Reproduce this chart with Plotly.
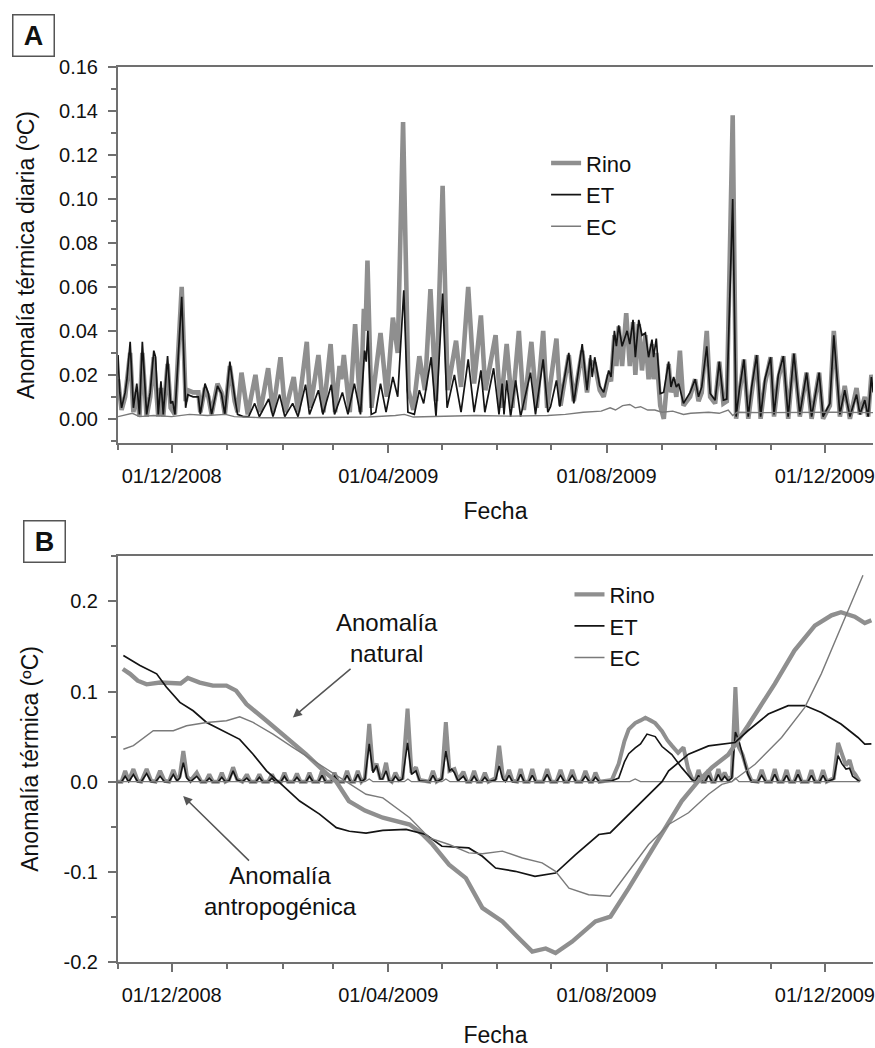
import pandas as pd
import plotly.graph_objects as go

START = pd.Timestamp("2008-11-01")   # x values below are days since this date

# ---------------- Panel A: daily thermal anomaly (vertices) ----------------
a_rino = [(0, 0.018), (2, 0.004), (4, 0.010), (6.8, 0.030), (8.6, 0.003), (10.5, 0.012), (12, 0.001),
          (13.6, 0.030), (16, 0.001), (18, 0.010), (20, 0.028), (22.5, 0.001), (24, 0.014), (25.3, 0.001),
          (27.7, 0.025), (29.4, 0.005), (31.8, 0.002), (35.6, 0.060), (37.8, 0.008), (39, 0.013), (42, 0.012),
          (44.9, 0.012), (46, 0.003), (48.6, 0.014), (50.5, 0.010), (52.3, 0.002), (55.6, 0.016), (57.8, 0.012),
          (59.7, 0.002), (62.5, 0.024), (65.2, 0.008), (66.8, 0.003), (69, 0.021), (72.5, 0.002), (76.8, 0.020),
          (79.5, 0.003), (83.9, 0.023), (86.6, 0.003), (90.8, 0.028), (93.4, 0.003), (98.2, 0.019), (100.6, 0.003),
          (105.5, 0.035), (107.5, 0.005), (112, 0.029), (114.8, 0.003), (118.8, 0.034), (121.3, 0.003),
          (123.8, 0.024), (124.8, 0.018), (126.2, 0.029), (129.5, 0.003), (132.5, 0.043), (135.5, 0.003),
          (137.4, 0.050), (138.3, 0.040), (139.4, 0.072), (141.6, 0.005), (146.7, 0.039), (150.2, 0.010),
          (153.6, 0.046), (156.3, 0.030), (159.3, 0.135), (162.3, 0.013), (165, 0.004), (168.4, 0.0285),
          (171.5, 0.013), (174.6, 0.059), (177.7, 0.008), (181.4, 0.106), (184.2, 0.013), (188.9, 0.0355),
          (191.7, 0.0145), (195.7, 0.060), (199, 0.016), (202.8, 0.047), (205.3, 0.013), (211, 0.038),
          (213.8, 0.005), (217.2, 0.034), (220.3, 0.005), (224, 0.040), (226.8, 0.004), (231, 0.035),
          (234, 0.005), (237.6, 0.040), (239.8, 0.005), (245, 0.0365), (247.3, 0.006), (251.9, 0.029),
          (254.7, 0.008), (259.4, 0.031), (262.1, 0.012), (264, 0.026), (266.4, 0.025), (269.2, 0.013),
          (271.4, 0.010), (274.2, 0.020), (275.5, 0.017), (277.4, 0.038), (278.5, 0.024), (279.8, 0.042),
          (281.7, 0.024), (284, 0.048), (286, 0.024), (287.8, 0.044), (289.1, 0.020), (291, 0.043),
          (292.8, 0.022), (294.7, 0.038), (296.5, 0.018), (298.4, 0.034), (299.3, 0.018), (300.8, 0.030),
          (303, 0.006), (305, 0.000), (307.7, 0.025), (309, 0.012), (310.5, 0.018), (312, 0.010), (314, 0.031),
          (316, 0.006), (319.7, 0.010), (322.5, 0.018), (324.4, 0.008), (326.2, 0.012), (329, 0.040),
          (330.9, 0.010), (333.7, 0.007), (336, 0.026), (338.3, 0.007), (340.2, 0.008), (343.5, 0.138),
          (345.4, 0.000), (347.2, 0.011), (349.8, 0.027), (352.2, 0.000), (354.1, 0.012), (356.9, 0.029),
          (359.1, 0.000), (361.5, 0.016), (364.7, 0.028), (366.6, 0.001), (369, 0.018), (371.8, 0.0285),
          (374.5, 0.000), (377.7, 0.0297), (381, 0.001), (384.8, 0.021), (387.6, 0.000), (391.8, 0.021),
          (394, 0.000), (397.8, 0.006), (400, 0.040), (403.4, 0.001), (406.1, 0.015), (409, 0.000),
          (412.7, 0.014), (414.6, 0.002), (417.3, 0.010), (419.2, 0.001), (421, 0.020), (422, 0.014)]

a_et = [(0, 0.029), (1, 0.012), (2, 0.005), (4, 0.012), (5, 0.018), (6.8, 0.035), (8.6, 0.005), (10.5, 0.016),
        (12, 0.002), (13.6, 0.035), (16, 0.002), (18, 0.012), (20, 0.031), (21, 0.028), (22.5, 0.002),
        (24, 0.017), (25.3, 0.002), (27.7, 0.0285), (29.4, 0.007), (30.5, 0.008), (31.8, 0.002), (35.6, 0.0555),
        (37.8, 0.005), (39, 0.011), (42, 0.010), (44.9, 0.010), (46, 0.002), (48.6, 0.016), (50.5, 0.0115),
        (52.3, 0.002), (55.6, 0.015), (57.8, 0.0115), (59.7, 0.002), (62.5, 0.026), (65.2, 0.010), (66.8, 0.002),
        (70, 0.001), (73, 0.001), (76.4, 0.007), (79, 0.001), (84.2, 0.009), (86.6, 0.001), (90.3, 0.011),
        (93.2, 0.001), (97.6, 0.007), (100.6, 0.001), (104.8, 0.0155), (107, 0.002), (112, 0.013), (114.5, 0.002),
        (119.2, 0.0155), (121, 0.002), (125.4, 0.012), (128.5, 0.002), (132.1, 0.016), (135.5, 0.002),
        (137.8, 0.031), (138.7, 0.026), (139.6, 0.040), (141.5, 0.002), (144, 0.003), (146.7, 0.016),
        (149.8, 0.003), (153.6, 0.019), (156.3, 0.010), (159.7, 0.0585), (162, 0.003), (165.6, 0.002),
        (168.4, 0.013), (170.8, 0.007), (175, 0.028), (177.7, 0.001), (181.4, 0.057), (183.9, 0.005),
        (188, 0.020), (191.7, 0.003), (195.7, 0.027), (199, 0.003), (202.8, 0.022), (205, 0.003), (209.9, 0.023),
        (212.9, 0.002), (214.7, 0.016), (215.7, 0.002), (217.2, 0.0175), (219.4, 0.001), (222.2, 0.0175),
        (225, 0.001), (230.5, 0.021), (233.3, 0.002), (237.6, 0.027), (240.2, 0.003), (241.7, 0.0055),
        (245, 0.0175), (246.9, 0.0055), (248.2, 0.0125), (251.9, 0.030), (254.7, 0.007), (259.4, 0.034),
        (262.1, 0.013), (264, 0.029), (265, 0.019), (266.4, 0.028), (269.2, 0.015), (271.4, 0.012),
        (274.2, 0.022), (275.5, 0.019), (277.4, 0.040), (278.5, 0.033), (279.8, 0.0425), (281.7, 0.033),
        (284.5, 0.040), (286, 0.034), (287.8, 0.045), (289.1, 0.028), (291, 0.045), (292.8, 0.038),
        (294.7, 0.039), (296.5, 0.028), (298.4, 0.036), (299.3, 0.028), (300.8, 0.0365), (303, 0.0115),
        (304.9, 0.012), (307.7, 0.026), (309, 0.0145), (310.5, 0.019), (312, 0.0145), (313.3, 0.016),
        (316, 0.007), (319.7, 0.012), (322.5, 0.018), (324.4, 0.010), (326.2, 0.0145), (329, 0.033),
        (330.9, 0.0115), (333.7, 0.0085), (336, 0.026), (338.3, 0.0085), (340.2, 0.009), (343.5, 0.100),
        (345.4, 0.001), (347.2, 0.013), (349.8, 0.027), (352.2, 0.001), (354.1, 0.0145), (356.9, 0.029),
        (359.1, 0.001), (361.5, 0.018), (364.7, 0.028), (366.6, 0.002), (369, 0.020), (371.8, 0.0285),
        (374.5, 0.001), (377.7, 0.0297), (381, 0.002), (384.8, 0.021), (387.6, 0.001), (391.8, 0.021),
        (394, 0.001), (397.8, 0.007), (400, 0.038), (403.4, 0.002), (406.1, 0.013), (409, 0.001),
        (412.7, 0.011), (414.6, 0.002), (417.3, 0.0085), (419.2, 0.001), (421, 0.019), (422, 0.012)]

a_ec = [(0, 0.001), (5, 0.002), (8, 0.0025), (12, 0.001), (20, 0.0015), (30, 0.001), (40, 0.002), (50, 0.0015),
        (60, 0.002), (65, 0.001), (80, 0.0005), (100, 0.0005), (120, 0.0005), (140, 0.0008), (155, 0.0015),
        (160, 0.002), (165, 0.0008), (180, 0.001), (200, 0.0015), (220, 0.0012), (240, 0.0015), (250, 0.002),
        (260, 0.003), (270, 0.0035), (275, 0.005), (278, 0.004), (282, 0.006), (286, 0.0065), (289, 0.005),
        (292, 0.0055), (296, 0.004), (300, 0.004), (304, 0.003), (310, 0.0035), (316, 0.002), (320, 0.0025),
        (326, 0.003), (330, 0.003), (336, 0.0025), (341, 0.004), (343.5, 0.0015), (346, 0.003), (360, 0.0028),
        (380, 0.003), (400, 0.003), (422, 0.0028)]

# ---------------- Panel B: natural (smooth) and anthropogenic (spiky) anomaly ----------------
b_rino_nat = [(2.7, 0.125), (6.7, 0.1196), (11, 0.112), (16, 0.108), (23.5, 0.110), (30.9, 0.110), (35, 0.109),
              (39, 0.115), (45.7, 0.110), (53, 0.1066), (60.6, 0.1066), (66, 0.101), (71.8, 0.086), (83, 0.0676),
              (94, 0.049), (105, 0.0305), (116, 0.010), (122, 0.0), (129, -0.0215), (138, -0.032), (148, -0.040),
              (163, -0.0475), (170, -0.058), (175.8, -0.0697), (185, -0.092), (194.4, -0.107), (203.6, -0.140),
              (214.8, -0.155), (222.2, -0.170), (231.5, -0.1885), (239, -0.185), (244.5, -0.190),
              (253.8, -0.1774), (266.8, -0.155), (275.2, -0.1496), (285.4, -0.118), (300.2, -0.0697),
              (315, -0.0215), (324, 0.0), (331.8, 0.0156), (341, 0.030), (352, 0.062), (367, 0.1085),
              (378, 0.1455), (389.4, 0.173), (398.7, 0.1845), (404, 0.188), (411.7, 0.183), (417.3, 0.176),
              (421, 0.179)]

b_et_nat = [(3, 0.140), (12.3, 0.129), (21.6, 0.1196), (27, 0.105), (34.6, 0.088), (42, 0.0787), (49.5, 0.0657),
            (60.6, 0.0546), (68, 0.047), (75.5, 0.0305), (83, 0.012), (90.3, -0.001), (101.5, -0.0215),
            (112.6, -0.036), (122, -0.051), (129.3, -0.055), (138.6, -0.057), (148, -0.054), (161, -0.053),
            (172, -0.0586), (181, -0.0716), (196, -0.0735), (203.6, -0.0827), (211, -0.0958), (222, -0.0994),
            (233, -0.105), (244.5, -0.1013), (255.7, -0.081), (268.7, -0.0586), (275, -0.0568), (285.4, -0.0363),
            (296.5, -0.014), (304, 0.0), (307.7, 0.012), (318.8, 0.0305), (330, 0.0397), (344.8, 0.0434),
            (352, 0.0565), (363.4, 0.075), (374.5, 0.0843), (383.8, 0.0845), (393, 0.0768), (404, 0.064),
            (413.5, 0.049), (417.3, 0.0416), (421, 0.042)]

b_ec_nat = [(3, 0.036), (8.6, 0.040), (19.7, 0.0565), (30.9, 0.0565), (38.3, 0.062), (49.5, 0.0657),
            (60.6, 0.0676), (68, 0.072), (75.5, 0.0657), (86.6, 0.0528), (97.7, 0.038), (112.6, 0.0194),
            (127.5, 0.0), (138.6, -0.014), (148, -0.018), (163, -0.040), (174, -0.0624), (185, -0.0697),
            (196, -0.079), (203.6, -0.080), (214.8, -0.077), (226, -0.0846), (237, -0.090), (244.5, -0.0994),
            (252, -0.118), (263, -0.1254), (275, -0.127), (285.4, -0.0994), (296.5, -0.0697), (307.7, -0.0475),
            (318.8, -0.0345), (330, -0.014), (337.4, -0.003), (343, 0.0), (356, 0.0194), (370.8, 0.049),
            (383.8, 0.0824), (393, 0.1196), (402.4, 0.164), (410, 0.201), (416.3, 0.229)]

b_rino_ant = [(0, 0.0), (2, 0.0), (4, 0.012), (6, 0.001), (8.6, 0.014), (11, 0.001), (13, 0.0), (16, 0.014),
              (18.5, 0.001), (21, 0.0), (23.5, 0.012), (26, 0.001), (28.5, 0.0), (30.9, 0.013), (33, 0.002),
              (34.5, 0.006), (36.5, 0.034), (38.5, 0.006), (40.5, 0.001), (44, 0.010), (46.5, 0.0), (49, 0.0),
              (51, 0.008), (53, 0.0), (56, 0.0), (58, 0.010), (60, 0.0), (62, 0.002), (64.3, 0.016), (66.5, 0.003),
              (69.5, 0.0), (72, 0.008), (74, 0.0), (77, 0.0), (79, 0.008), (81, 0.0), (84, 0.0), (86, 0.008),
              (88, 0.0), (91, 0.0), (93, 0.010), (95, 0.0), (98, 0.0), (100, 0.009), (102, 0.0), (105, 0.0),
              (107, 0.010), (109, 0.0), (112, 0.0), (114, 0.012), (116, 0.0), (119, 0.0), (121, 0.010), (123, 0.0),
              (126, 0.0), (128, 0.012), (130, 0.0), (132, 0.0), (134, 0.012), (136, 0.0), (138, 0.004),
              (140.4, 0.064), (142.5, 0.012), (144.5, 0.020), (146.5, 0.004), (147.8, 0.004), (149.8, 0.021),
              (151.5, 0.002), (153, 0.0), (155, 0.010), (157, 0.002), (159, 0.004), (161.8, 0.081), (164, 0.010),
              (166.5, 0.016), (168.5, 0.002), (174, 0.0), (176, 0.012), (178, 0.0), (181, 0.004), (183.2, 0.066),
              (185.2, 0.012), (188, 0.014), (190, 0.002), (193, 0.011), (195, 0.0), (197, 0.0), (199, 0.012),
              (201, 0.0), (203, 0.0), (205, 0.010), (207, 0.0), (211, 0.004), (213, 0.040), (215, 0.006),
              (216.5, 0.001), (218.5, 0.013), (220.5, 0.001), (223, 0.0), (225, 0.014), (227, 0.0), (229.5, 0.0),
              (231.5, 0.014), (233.5, 0.0), (237.5, 0.0), (239.8, 0.014), (242, 0.0), (245, 0.0), (247.3, 0.013),
              (249.5, 0.0), (251.5, 0.0), (253.8, 0.013), (256, 0.0), (259, 0.0), (261.2, 0.012), (263.5, 0.0),
              (265, 0.0), (266.8, 0.010), (269, 0.0), (276, 0.002), (279.8, 0.020), (283, 0.045), (285.4, 0.058),
              (289, 0.065), (292, 0.068), (294.7, 0.071), (297.5, 0.068), (300.2, 0.065), (304, 0.056),
              (307, 0.046), (309.5, 0.040), (313, 0.032), (316, 0.038), (318.5, 0.015), (320.6, 0.004),
              (322.5, 0.0), (324.4, 0.013), (326.5, 0.0), (328, 0.0), (330, 0.013), (332, 0.0), (333.5, 0.0),
              (335.5, 0.014), (337.2, 0.002), (339, 0.010), (341, 0.002), (343, 0.006), (345, 0.105),
              (346.5, 0.040), (349, 0.030), (352, 0.010), (354, 0.001), (357.5, 0.0), (359.7, 0.013), (362, 0.0),
              (365, 0.0), (367, 0.014), (369, 0.0), (371.5, 0.0), (373.6, 0.013), (375.5, 0.0), (378, 0.0),
              (380, 0.013), (382, 0.0), (385.5, 0.0), (387.5, 0.013), (389.5, 0.0), (392, 0.0), (394, 0.013),
              (396, 0.0), (400, 0.004), (402.4, 0.043), (405, 0.028), (406.8, 0.018), (408.8, 0.024),
              (410.5, 0.012), (412, 0.008), (414.5, 0.0)]

b_et_ant = [(0, 0.0), (2, 0.0), (4, 0.006), (6, 0.0), (8.6, 0.008), (11, 0.0), (13, 0.0), (16, 0.009),
            (18.5, 0.0), (21, 0.0), (23.5, 0.006), (26, 0.0), (28.5, 0.0), (30.9, 0.008), (33, 0.001),
            (34.5, 0.004), (36.5, 0.021), (38.5, 0.004), (40.5, 0.0), (44, 0.006), (46.5, 0.0), (49, 0.0),
            (51, 0.004), (53, 0.0), (56, 0.0), (58, 0.005), (60, 0.0), (62, 0.001), (64.3, 0.012), (66.5, 0.002),
            (69.5, 0.0), (72, 0.004), (74, 0.0), (77, 0.0), (79, 0.005), (81, 0.0), (84, 0.0), (86, 0.004),
            (88, 0.0), (91, 0.0), (93, 0.006), (95, 0.0), (98, 0.0), (100, 0.005), (102, 0.0), (105, 0.0),
            (107, 0.006), (109, 0.0), (112, 0.0), (114, 0.007), (116, 0.0), (119, 0.0), (121, 0.006), (123, 0.0),
            (126, 0.0), (128, 0.007), (130, 0.0), (132, 0.0), (134, 0.008), (136, 0.0), (138, 0.003),
            (140.4, 0.042), (142.5, 0.010), (144.5, 0.018), (146.5, 0.003), (147.8, 0.003), (149.8, 0.012),
            (151.5, 0.001), (153, 0.0), (155, 0.006), (157, 0.001), (159, 0.003), (161.8, 0.043), (164, 0.008),
            (166.5, 0.012), (168.5, 0.001), (174, 0.0), (176, 0.007), (178, 0.0), (181, 0.003), (183.2, 0.034),
            (185.2, 0.012), (186.5, 0.014), (188, 0.010), (190, 0.001), (193, 0.006), (195, 0.0), (197, 0.0),
            (199, 0.006), (201, 0.0), (203, 0.0), (205, 0.005), (207, 0.0), (211, 0.002), (213, 0.0175),
            (215, 0.003), (216.5, 0.0), (218.5, 0.007), (220.5, 0.0), (223, 0.0), (225, 0.008), (227, 0.0),
            (229.5, 0.0), (231.5, 0.007), (233.5, 0.0), (237.5, 0.0), (239.8, 0.008), (242, 0.0), (245, 0.0),
            (247.3, 0.007), (249.5, 0.0), (251.5, 0.0), (253.8, 0.007), (256, 0.0), (259, 0.0), (261.2, 0.006),
            (263.5, 0.0), (265, 0.0), (266.8, 0.005), (269, 0.0), (276, 0.001), (279.8, 0.004), (283, 0.022),
            (285.4, 0.031), (289, 0.0376), (292, 0.042), (295.6, 0.0528), (298, 0.051), (300.2, 0.050),
            (304, 0.039), (309.5, 0.030), (315, 0.0156), (320.6, 0.0026), (322.5, 0.0), (324.4, 0.007),
            (326.5, 0.0), (328, 0.0), (330, 0.007), (332, 0.0), (333.5, 0.0), (335.5, 0.008), (337.2, 0.001),
            (339, 0.006), (341, 0.001), (343, 0.004), (345, 0.055), (347, 0.045), (349, 0.030), (352, 0.008),
            (354, 0.0), (357.5, 0.0), (359.7, 0.007), (362, 0.0), (365, 0.0), (367, 0.008), (369, 0.0),
            (371.5, 0.0), (373.6, 0.007), (375.5, 0.0), (378, 0.0), (380, 0.008), (382, 0.0), (385.5, 0.0),
            (387.5, 0.007), (389.5, 0.0), (392, 0.0), (394, 0.007), (396, 0.0), (400, 0.003), (402.4, 0.029),
            (404.5, 0.020), (406.8, 0.014), (408.8, 0.015), (410.5, 0.006), (412, 0.004), (414.5, 0.0)]

b_ec_ant = [(0, 0.0), (138, 0.0), (140.4, 0.003), (142.5, 0.0), (160, 0.0), (162, 0.003), (164, 0.0),
            (181, 0.0), (183.2, 0.003), (185.5, 0.0), (286, 0.0), (289, 0.003), (292, 0.0), (343, 0.0),
            (345, 0.004), (347, 0.0), (414.5, 0.0)]

# ---------------- axes: tick positions / labels ----------------
x_tick_dates = ["2008-12-01", "2009-04-01", "2009-08-01", "2009-12-01"]
x_tick_labels = ["01/12/2008", "01/04/2009", "01/08/2009", "01/12/2009"]
a_y_ticks = [0.00, 0.02, 0.04, 0.06, 0.08, 0.10, 0.12, 0.14, 0.16]
a_y_labels = ["0.00", "0.02", "0.04", "0.06", "0.08", "0.10", "0.12", "0.14", "0.16"]
b_y_ticks = [-0.2, -0.1, 0.0, 0.1, 0.2]
b_y_labels = ["-0.2", "-0.1", "0.0", "0.1", "0.2"]


def xy(pairs):
    days = [p[0] for p in pairs]
    vals = [p[1] for p in pairs]
    return START + pd.to_timedelta(days, unit="D"), vals


RINO_C = "#8f8f8f"
ET_C = "#141414"
EC_C = "#7a7a7a"
AX_C = "#707070"
FONT = "Arial, Liberation Sans, sans-serif"

fig = go.Figure()

# Panel A
for pairs, name, color, width in [(a_rino, "Rino", RINO_C, 4.6), (a_et, "ET", ET_C, 1.7), (a_ec, "EC", EC_C, 1.4)]:
    x, y = xy(pairs)
    fig.add_trace(go.Scatter(x=x, y=y, mode="lines", name=name, line=dict(color=color, width=width),
                             xaxis="x", yaxis="y", legend="legend", showlegend=True))

# Panel B anthropogenic (spiky) first
for pairs, color, width in [(b_rino_ant, RINO_C, 4.0), (b_et_ant, ET_C, 1.6), (b_ec_ant, EC_C, 1.3)]:
    x, y = xy(pairs)
    fig.add_trace(go.Scatter(x=x, y=y, mode="lines", line=dict(color=color, width=width),
                             xaxis="x2", yaxis="y2", showlegend=False))
# Panel B natural (smooth)
for pairs, name, color, width in [(b_rino_nat, "Rino", RINO_C, 4.4), (b_et_nat, "ET", ET_C, 1.7),
                                  (b_ec_nat, "EC", EC_C, 1.4)]:
    x, y = xy(pairs)
    fig.add_trace(go.Scatter(x=x, y=y, mode="lines", name=name, line=dict(color=color, width=width),
                             xaxis="x2", yaxis="y2", legend="legend2", showlegend=True))

x_end = START + pd.Timedelta(days=421.9)

tickfont = dict(family=FONT, size=20, color="#111")
titlefont = dict(family=FONT, size=23, color="#111")


def xaxis_cfg(anchor, standoff):
    return dict(type="date", range=[START, x_end], anchor=anchor, domain=[0, 1],
                tickvals=x_tick_dates, ticktext=x_tick_labels, ticks="outside", ticklen=8, tickwidth=1.5,
                tickcolor=AX_C, ticklabelstandoff=6, ticklabeloverflow="allow",
                minor=dict(ticks="outside", ticklen=5, tickwidth=1.5, tickcolor=AX_C, dtick="M1",
                           tick0="2008-11-01"),
                showline=True, linecolor=AX_C, linewidth=2, mirror=True, showgrid=False, zeroline=False,
                tickfont=tickfont, title=dict(text="Fecha", font=titlefont, standoff=standoff))


def yaxis_cfg(anchor, domain, rng, tv, tt, minor_dt, title, standoff):
    return dict(anchor=anchor, domain=domain, range=rng, tickvals=tv, ticktext=tt, ticks="outside",
                ticklen=8, tickwidth=1.5, tickcolor=AX_C, ticklabelstandoff=6,
                minor=dict(ticks="outside", ticklen=5, tickwidth=1.5, tickcolor=AX_C, dtick=minor_dt, tick0=0),
                showline=True, linecolor=AX_C, linewidth=2, showgrid=False, zeroline=False,
                tickfont=tickfont, title=dict(text=title, font=titlefont, standoff=standoff))


def inner_ticks(overlay, anchor, rng, tv):
    return dict(overlaying=overlay, anchor=anchor, side="left", range=rng, tickvals=tv, ticks="inside",
                ticklen=8, tickwidth=1.5, tickcolor=AX_C, showticklabels=False, showline=False,
                showgrid=False, zeroline=False)


a_range = [-0.0112, 0.16]
b_range = [-0.2, 0.2505]

legend_font = dict(family=FONT, size=22, color="#111")

fig.update_layout(
    width=875, height=1048,
    margin=dict(l=118, r=0, t=67, b=86),
    paper_bgcolor="white", plot_bgcolor="white",
    font=dict(family=FONT, color="#111"),
    xaxis=xaxis_cfg("y", 16),
    yaxis=yaxis_cfg("x", [0.5794, 1.0], a_range, a_y_ticks, a_y_labels, 0.01,
                    "Anomalía térmica diaria (ºC)", 18),
    yaxis3=inner_ticks("y", "x", a_range, a_y_ticks),
    xaxis2=xaxis_cfg("y2", 26),
    yaxis2=yaxis_cfg("x2", [0.0, 0.4538], b_range, b_y_ticks, b_y_labels, 0.05,
                     "Anomalía térmica (ºC)", 18),
    yaxis4=inner_ticks("y2", "x2", b_range, b_y_ticks),
    legend=dict(x=0.567, y=0.916, xanchor="left", yanchor="top", bgcolor="rgba(0,0,0,0)",
                font=legend_font, tracegroupgap=0),
    legend2=dict(x=0.598, y=0.434, xanchor="left", yanchor="top", bgcolor="rgba(0,0,0,0)",
                 font=legend_font, tracegroupgap=0),
    annotations=[
        dict(text="<b>A</b>", xref="paper", yref="paper", x=0, y=1, xshift=-85, yshift=32,
             xanchor="center", yanchor="middle", showarrow=False, font=dict(family=FONT, size=27, color="#111"),
             bordercolor="#555", borderwidth=1.5, borderpad=2, width=36, height=36),
        dict(text="<b>B</b>", xref="paper", yref="paper", x=0, y=0.4538, xshift=-74, yshift=14,
             xanchor="center", yanchor="middle", showarrow=False, font=dict(family=FONT, size=27, color="#111"),
             bordercolor="#555", borderwidth=1.5, borderpad=2, width=36, height=36),
        dict(text="Anomalía<br>natural", xref="x2", yref="y2", x=START + pd.Timedelta(days=97.7), y=0.0713,
             ax=94, ay=-79, showarrow=True, arrowhead=2, arrowsize=1.2, arrowwidth=1.5, arrowcolor="#555",
             font=dict(family=FONT, size=24, color="#111")),
        dict(text="Anomalía<br>antropogénica", xref="x2", yref="y2", x=START + pd.Timedelta(days=36.4),
             y=-0.016, ax=97, ay=95, showarrow=True, arrowhead=2, arrowsize=1.2, arrowwidth=1.5,
             arrowcolor="#555", font=dict(family=FONT, size=24, color="#111")),
    ],
)

# remove the page's default body margin so the 875x1048 figure fills the window exactly
fig.write_html("out.html", config={"displayModeBar": False},
               post_script="document.body.style.margin='0';document.body.style.overflow='hidden';")
